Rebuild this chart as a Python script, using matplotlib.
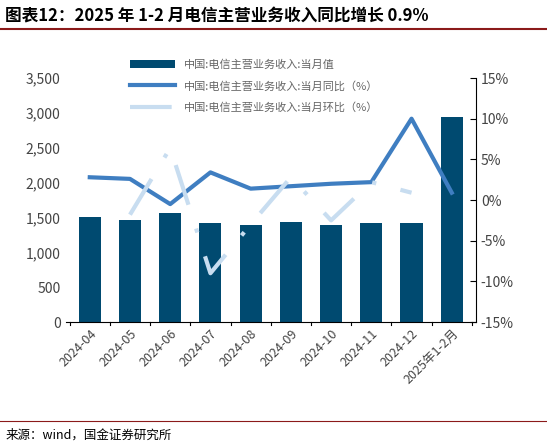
import matplotlib
matplotlib.use("Agg")
import matplotlib.pyplot as plt
import numpy as np
plt.rcParams['font.family'] = ['Noto Sans CJK SC', 'DejaVu Sans']

cats = ['2024-04','2024-05','2024-06','2024-07','2024-08','2024-09','2024-10','2024-11','2024-12','2025年1-2月']
rev = [1500, 1460, 1570, 1420, 1390, 1440, 1390, 1420, 1420, 2940]
yoy = [2.8, 2.6, -0.5, 3.4, 1.4, 1.7, 2.0, 2.2, 10.0, 0.9]
mom = [np.nan, -1.8, 6.4, -9.0, -3.0, 2.8, -2.5, 2.2, 0.9, np.nan]

fig = plt.figure(figsize=(5.47, 4.46), dpi=100)
fig.text(0.01, 0.965, '图表12：2025 年 1-2 月电信主营业务收入同比增长 0.9%', fontsize=12, fontweight='bold', style='italic', va='center')
fig.add_artist(plt.Line2D([0.0, 1.0], [0.935, 0.935], color='#8B1A1A', lw=1.5))
fig.add_artist(plt.Line2D([0.0, 1.0], [0.055, 0.055], color='#8B1A1A', lw=0.8))
fig.text(0.01, 0.025, '来源：wind，国金证券研究所', fontsize=9, va='center')

ax = fig.add_axes([0.12, 0.278, 0.75, 0.547])
x = np.arange(len(cats))
b = ax.bar(x, rev, width=0.55, color='#004A70', label='中国:电信主营业务收入:当月值')
ax.set_ylim(0, 3500)
ax.set_yticks(range(0, 3501, 500))
ax.set_yticklabels([f'{v:,}' for v in range(0, 3501, 500)], color='#444')
ax.set_xlim(-0.6, len(cats) - 0.4)
ax.set_xticks(x)
ax.set_xticklabels(cats, rotation=45, ha='right', rotation_mode='anchor', color='#444', fontsize=9)
for s in ['top', 'right', 'left']:
    ax.spines[s].set_visible(False)
ax.tick_params(axis='y', length=0)
ax.tick_params(axis='x', length=0)
for xi in np.arange(-0.5, len(cats), 1.0):
    ax.plot([xi, xi], [0, -40], color='black', lw=0.8, clip_on=False)

ax2 = ax.twinx()
l1, = ax2.plot(x, yoy, color='#3F7EC1', lw=3, label='中国:电信主营业务收入:当月同比（%）')
l2, = ax2.plot(x, mom, color='#C8DDF0', lw=3, dashes=(10, 6, 1, 6), label='中国:电信主营业务收入:当月环比（%）')
ax2.set_ylim(-15, 15)
ax2.set_yticks(range(-15, 16, 5))
ax2.set_yticklabels([f'{v}%' for v in range(-15, 16, 5)], color='#444')
for s in ['top', 'left', 'bottom']:
    ax2.spines[s].set_visible(False)
ax2.tick_params(axis='y', direction='in', length=4)

fig.legend([b, l1, l2], [b.get_label(), l1.get_label(), l2.get_label()],
           loc='upper left', bbox_to_anchor=(0.22, 0.89), frameon=False,
           fontsize=8, labelcolor='#666', handlelength=4, labelspacing=1.0)
fig.savefig('out.png', dpi=100)
